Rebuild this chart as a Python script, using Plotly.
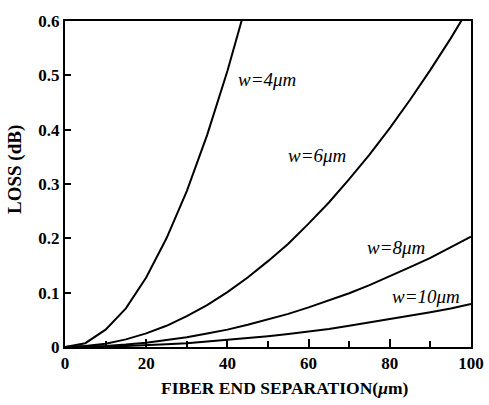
import plotly.graph_objects as go

sep = [0, 5, 10, 15, 20, 25, 30, 35, 40, 45, 50, 55, 60, 65, 70, 75, 80, 85, 90, 95, 100]
loss_w4 = [0, 0.007, 0.032, 0.071, 0.128, 0.20, 0.287, 0.39, 0.508, 0.64]
loss_w6 = [0, 0.002, 0.006, 0.014, 0.025, 0.039, 0.057, 0.077, 0.101, 0.128, 0.158,
           0.19, 0.227, 0.266, 0.309, 0.354, 0.403, 0.455, 0.51, 0.568, 0.63]
loss_w8 = [0, 0.0005, 0.002, 0.0045, 0.008, 0.013, 0.018, 0.025, 0.032, 0.041, 0.051,
           0.061, 0.073, 0.086, 0.099, 0.114, 0.130, 0.147, 0.164, 0.183, 0.203]
loss_w10 = [0, 0.0002, 0.001, 0.002, 0.003, 0.005, 0.007, 0.01, 0.013, 0.016, 0.020,
            0.024, 0.028, 0.033, 0.039, 0.045, 0.051, 0.057, 0.064, 0.071, 0.079]
labels = ["w=4μm", "w=6μm", "w=8μm", "w=10μm"]
label_x = [42.2, 54.4, 74.0, 80.1]
label_y = [0.493, 0.353, 0.184, 0.0925]

series = [loss_w4, loss_w6, loss_w8, loss_w10]

serif = "Liberation Serif"
W, H = 489, 405
pl, pr, pt, pb = 65, 18, 21, 58
pw, ph = W - pl - pr, H - pt - pb

fig = go.Figure()
for ys in series:
    fig.add_trace(go.Scatter(x=sep[:len(ys)], y=ys, mode="lines",
                             line=dict(color="black", width=2), showlegend=False))

for t, lx, ly in zip(labels, label_x, label_y):
    fig.add_annotation(x=lx, y=ly, xref="x", yref="y", text=t, showarrow=False,
                       xanchor="left", yanchor="middle",
                       font=dict(family=serif, size=19, style="italic", color="black"))

fig.update_xaxes(range=[0, 100], tickvals=[0, 20, 40, 60, 80, 100], automargin=False,
                 ticks="inside", ticklen=8, tickwidth=1.5, tickcolor="black",
                 minor=dict(dtick=10, ticks="inside", ticklen=6, tickwidth=1.5, tickcolor="black"),
                 showline=True, linecolor="black", linewidth=2, mirror=True,
                 showgrid=False, zeroline=False,
                 tickfont=dict(family=serif, size=17, weight="bold", color="black"))
fig.update_yaxes(range=[0, 0.6], tickvals=[0, 0.1, 0.2, 0.3, 0.4, 0.5, 0.6], automargin=False,
                 ticktext=["0", "0.1", "0.2", "0.3", "0.4", "0.5", "0.6"],
                 ticks="inside", ticklen=6, tickwidth=1.5, tickcolor="black",
                 showline=True, linecolor="black", linewidth=2, mirror=True,
                 showgrid=False, zeroline=False,
                 tickfont=dict(family=serif, size=17, weight="bold", color="black"))

fig.add_annotation(x=(284 - pl) / pw, y=(H - pb - 388) / ph, xref="paper", yref="paper",
                   text="FIBER END SEPARATION(<i>μ</i>m)", showarrow=False,
                   xanchor="center", yanchor="middle",
                   font=dict(family=serif, size=17.5, weight="bold", color="black"))
fig.add_annotation(x=(15 - pl) / pw, y=(H - pb - 170) / ph, xref="paper", yref="paper",
                   text="LOSS (dB)", textangle=-90, showarrow=False,
                   xanchor="center", yanchor="middle",
                   font=dict(family=serif, size=19, weight="bold", color="black"))

fig.update_layout(width=W, height=H, margin=dict(l=pl, r=pr, t=pt, b=pb),
                  plot_bgcolor="white", paper_bgcolor="white")

fig.write_html("out.html")
